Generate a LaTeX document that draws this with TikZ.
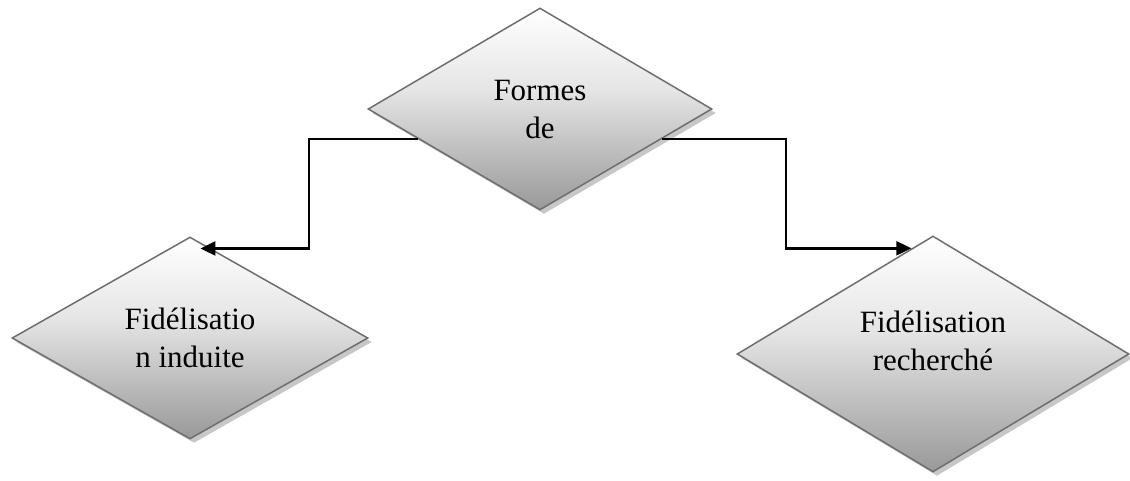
\documentclass[tikz,border=0pt]{standalone}
\usepackage{fontspec}
\setmainfont{Liberation Serif}
\usetikzlibrary{shapes.geometric,shadows,calc,arrows.meta}
\pgfdeclareverticalshading{diashade}{100bp}{color(0bp)=(black!40); color(25bp)=(black!40); color(55bp)=(black!10); color(75bp)=(white); color(100bp)=(white)}
\begin{document}
\begin{tikzpicture}[x=1pt,y=-1pt,
  dia/.style={shape=diamond, inner sep=0pt, shape aspect=1.7, draw=black!57, line width=1.5pt,
    shading=diashade, align=center,
    font=\fontsize{31}{38}\selectfont,
    drop shadow={shadow xshift=4pt, shadow yshift=-4pt, fill=black!40, opacity=0.55}},
  conn/.style={draw=black, line width=2.5pt, line join=miter, -{Triangle[length=15pt,width=14pt]}}]
\useasboundingbox (0,0) rectangle (1130,480);
\node[dia, minimum width=344pt, minimum height=202pt] (T) at (540,109) {Formes\\de};
\node[dia, minimum width=356pt, minimum height=202pt] (L) at (190,338) {Fidélisatio\\n induite};
\node[dia, minimum width=392pt, minimum height=236pt] (R) at (933,354) {Fidélisation\\recherché\\[-12pt]\mbox{}};
\coordinate (ls) at ($(T.west)!0.294!(T.south)$);
\coordinate (rs) at ($(T.east)!0.294!(T.south)$);
\coordinate (lt) at ($(L.north)!0.12!(L.east)+(-11,0)$);
\coordinate (rt) at ($(R.north)!0.11!(R.west)$);
\draw[conn] (ls) -- ++(-109,0) |- (lt);
\draw[conn] (rs) -- ++(124,0) |- (rt);
\end{tikzpicture}
\end{document}
